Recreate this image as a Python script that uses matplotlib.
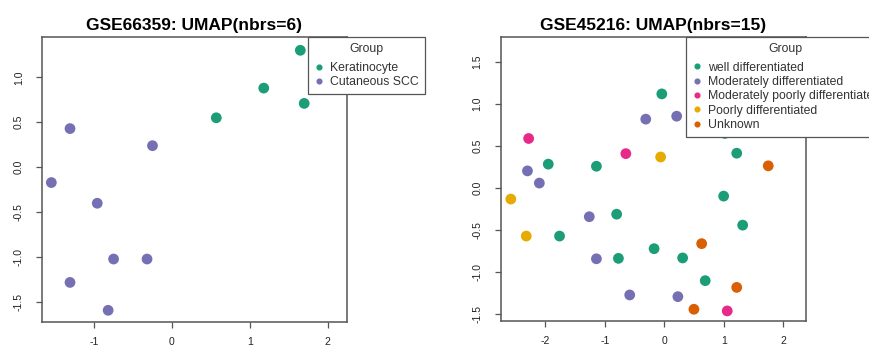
import matplotlib
matplotlib.use("Agg")
import matplotlib.pyplot as plt
from matplotlib.lines import Line2D

plt.rcParams['font.family'] = ['Liberation Sans', 'DejaVu Sans']

# ---- Left panel data (GSE66359) ----
left_groups = ["Keratinocyte", "Cutaneous SCC"]
left_colors = ["#1B9E77", "#7570B3"]
kera_x = [1.65, 1.18, 1.70, 0.57]
kera_y = [1.30, 0.88, 0.71, 0.55]
scc_x = [-1.31, -0.25, -1.55, -0.96, -0.75, -0.32, -1.31, -0.82]
scc_y = [0.43, 0.24, -0.17, -0.40, -1.02, -1.02, -1.28, -1.59]
left_xticks = [-1, 0, 1, 2]
left_yticks = [-1.5, -1.0, -0.5, 0.0, 0.5, 1.0]

# ---- Right panel data (GSE45216) ----
right_groups = ["well differentiated", "Moderately differentiated",
                "Moderately poorly differentiated", "Poorly differentiated", "Unknown"]
right_colors = ["#1B9E77", "#7570B3", "#E7298A", "#E6AB02", "#D95F02"]
well_x = [-0.04, -1.95, -1.14, -0.80, -1.76, -0.77, -0.17, 0.31, 0.69, 1.00, 1.22, 1.32, 1.02]
well_y = [1.12, 0.285, 0.26, -0.31, -0.57, -0.835, -0.72, -0.83, -1.10, -0.095, 0.415, -0.44, 0.65]
mod_x = [-0.31, 0.21, -2.30, -2.10, -1.26, -1.14, -0.58, 0.23]
mod_y = [0.82, 0.855, 0.205, 0.06, -0.34, -0.84, -1.27, -1.29]
modpoor_x = [-2.28, -0.645, 1.06]
modpoor_y = [0.59, 0.41, -1.46]
poor_x = [-0.06, -2.58, -2.32]
poor_y = [0.37, -0.13, -0.57]
unk_x = [1.75, 0.63, 1.22, 0.50]
unk_y = [0.265, -0.66, -1.18, -1.44]
right_xticks = [-2, -1, 0, 1, 2]
right_yticks = [-1.5, -1.0, -0.5, 0.0, 0.5, 1.0, 1.5]

W, H = 870, 346
fig = plt.figure(figsize=(W / 100, H / 100), dpi=100)

def px_axes(x0, y0, x1, y1):
    return fig.add_axes([x0 / W, 1 - y1 / H, (x1 - x0) / W, (y1 - y0) / H])

def style(ax, xticks, yticks):
    for s in ax.spines.values():
        s.set_color('#555555')
        s.set_linewidth(1.1)
    ax.set_xticks(xticks)
    ax.set_yticks(yticks)
    ax.set_xticklabels([f"{t:g}" for t in xticks])
    ax.set_yticklabels([f"{t:.1f}" for t in yticks], rotation=90, va='center')
    ax.tick_params(axis='x', direction='out', length=4, width=0.9, color='#555555',
                   labelsize=7.5, pad=7, labelcolor='#222222')
    ax.tick_params(axis='y', direction='out', length=4, width=0.9, color='#555555',
                   labelsize=7.5, pad=9, labelcolor='#222222')

def legend(ax, labels, colors, anchor_x):
    handles = [Line2D([], [], marker='o', linestyle='none', markersize=3.4,
                      markerfacecolor=c, markeredgecolor=c) for c in colors]
    leg = ax.legend(handles, labels, title="Group", loc='upper left',
                    bbox_to_anchor=(anchor_x, 1.0), borderaxespad=0,
                    fontsize=8.8, title_fontsize=8.8, frameon=True, fancybox=False,
                    framealpha=1, edgecolor='#555555', handlelength=0.8,
                    handletextpad=0.5, labelspacing=0.19, borderpad=0.5,
                    alignment='center')
    leg._legend_box.sep = 5.0
    leg.get_frame().set_linewidth(0.9)
    leg.set_clip_on(False)
    for t in leg.get_texts():
        t.set_color('#333333')
    leg.get_title().set_color('#333333')
    leg.set_zorder(10)
    return leg

# Left axes
ax1 = px_axes(42, 37, 347, 322)
ax1.scatter(kera_x, kera_y, s=60, color=left_colors[0], edgecolors='none', zorder=3)
ax1.scatter(scc_x, scc_y, s=60, color=left_colors[1], edgecolors='none', zorder=3)
ax1.set_xlim(-1.67, 2.25)
ax1.set_ylim(-1.72, 1.448)
style(ax1, left_xticks, left_yticks)
ax1.set_title("GSE66359: UMAP(nbrs=6)", fontsize=12.5, fontweight='bold', pad=5)
legend(ax1, left_groups, left_colors, (308 - 42) / 305)

# Right axes
ax2 = px_axes(500.7, 36.7, 805.7, 320.7)
for xs, ys, c in zip([well_x, mod_x, modpoor_x, poor_x, unk_x],
                     [well_y, mod_y, modpoor_y, poor_y, unk_y], right_colors):
    ax2.scatter(xs, ys, s=60, color=c, edgecolors='none', zorder=3)
ax2.set_xlim(-2.75, 2.38)
ax2.set_ylim(-1.576, 1.80)
style(ax2, right_xticks, right_yticks)
ax2.set_title("GSE45216: UMAP(nbrs=15)", fontsize=12.5, fontweight='bold', pad=5)
legend(ax2, right_groups, right_colors, (685.7 - 500.7) / 305)

fig.savefig("out.png", dpi=100)
